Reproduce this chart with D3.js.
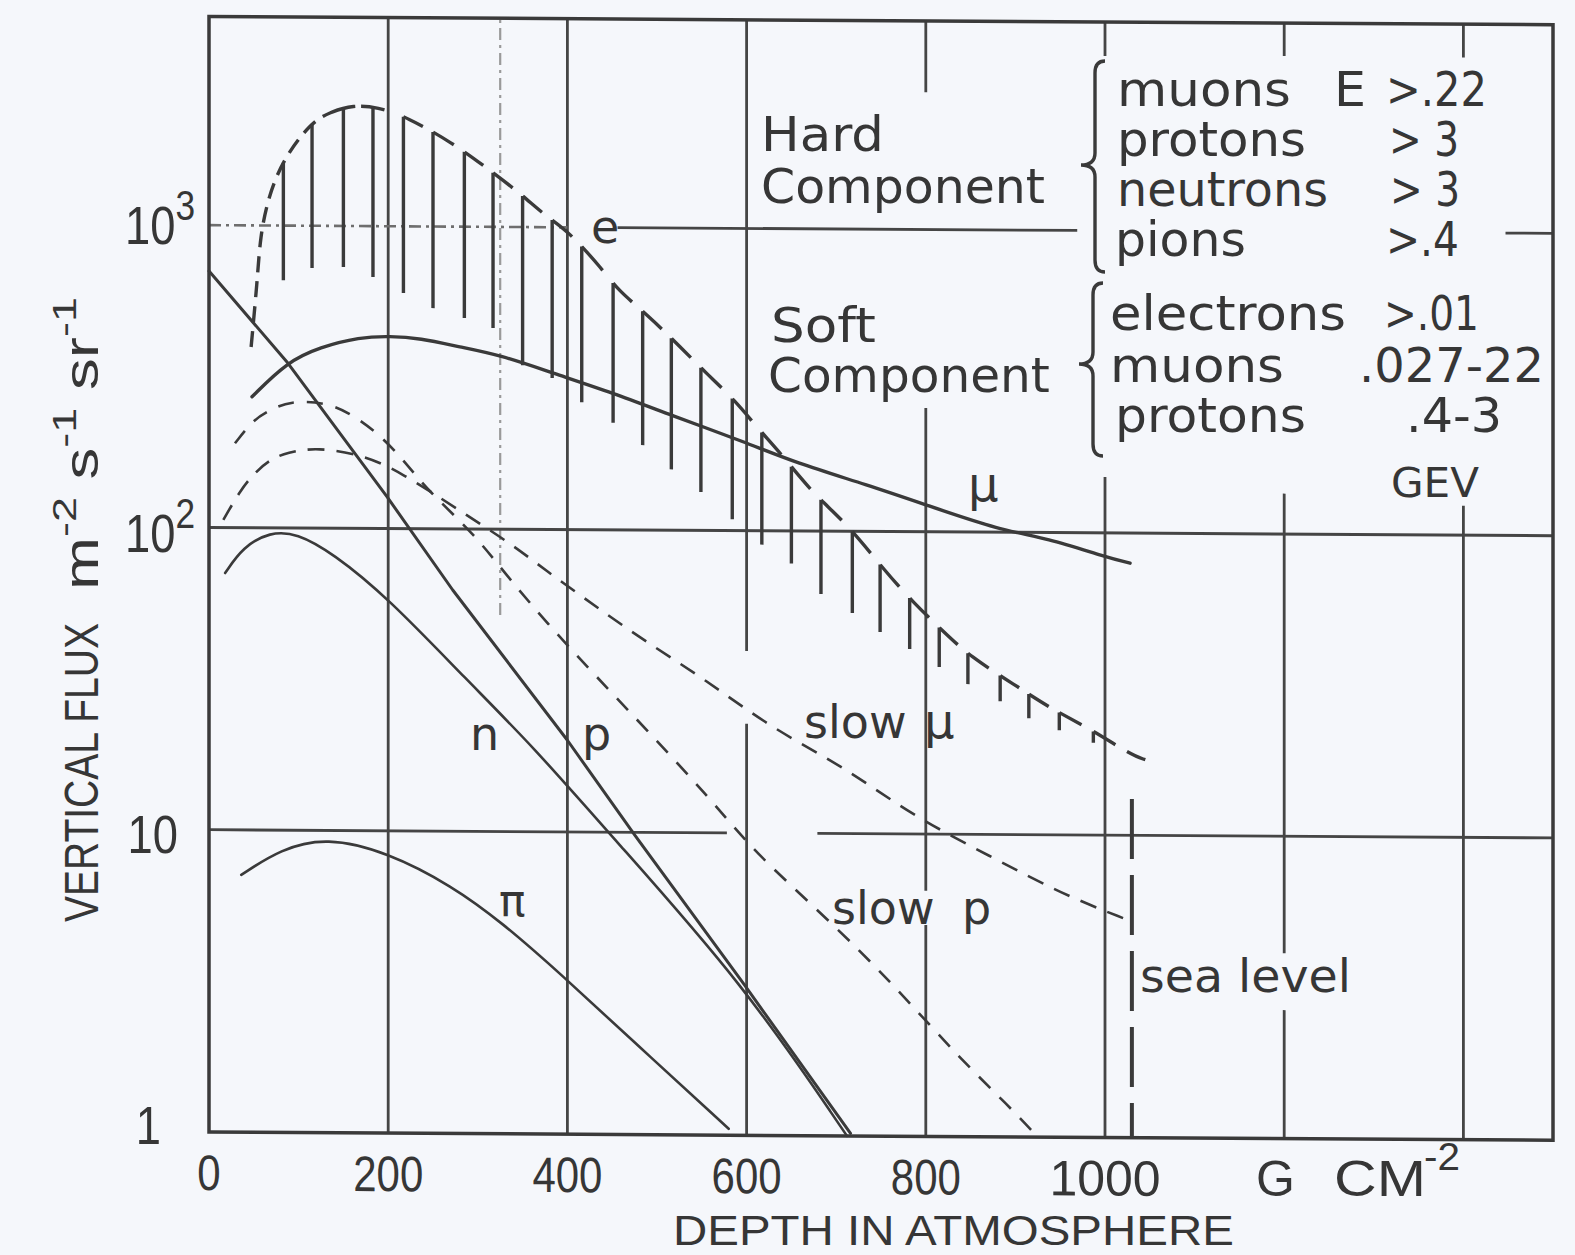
<!DOCTYPE html>
<html>
<head>
<meta charset="utf-8">
<script src="https://cdn.jsdelivr.net/npm/d3@7"></script>
<style>
  html, body { margin: 0; padding: 0; background: #f5f7fb; }
  svg { display: block; }
</style>
</head>
<body>
<svg id="chart" width="1575" height="1255"></svg>
<script>
// ---- axis ticks ----
const depthTicks = [0, 200, 400, 600, 800, 1000];
const fluxTicks = [1, 10, 100, 1000];
const fluxTickExp = ["", "", "2", "3"];

// ---- vertical fluxes (m^-2 s^-1 sr^-1) versus depth (g cm^-2) ----
// electrons: upper envelope of the hatched band
const eDepth = [47, 54, 57, 66, 82, 113, 135, 161, 188, 221, 272, 310, 347, 377, 400, 440, 456, 492, 526, 556, 588, 612, 640, 675, 711, 756, 787, 819, 850, 898, 939, 982, 1030, 1045];
const eFlux  = [396, 660, 914, 1238, 1641, 2187, 2379, 2514, 2477, 2300, 1891, 1566, 1296, 1080, 979, 723, 622, 507, 404, 329, 268, 219, 178, 132, 107, 73, 58, 47, 38.6, 31.5, 26.2, 22.6, 18.4, 17.8];

// hatch strokes hanging from the electron envelope
const hatchDepth = [83, 115, 150, 183, 217, 250, 285, 317, 350, 383, 416, 451, 484, 516, 549, 584, 617, 650, 683, 718, 749, 782, 815, 847, 883, 915, 949, 987];
const hatchFloor = [660, 725, 731, 679, 602, 537, 499, 463, 349, 317, 264, 226, 191, 159, 134, 109, 90, 78, 62, 53.7, 46.5, 40.9, 35.7, 31.4, 27.6, 24.3, 22.2, 20.2];

// muons
const muDepth = [48, 87, 124, 168, 202, 235, 280, 325, 384, 451, 516, 599, 655, 735, 801, 883, 935, 1002, 1028];
const muFlux  = [271, 354, 397, 429, 433, 427, 400, 377, 329, 284, 240, 196, 168, 142.5, 122.5, 101.6, 96, 83, 79.5];

// protons
const pDepth = [0, 88, 199, 272, 400, 475, 597, 716];
const pFlux  = [705, 351, 127, 62.8, 20.1, 9.8, 3.16, 1.02];

// neutrons
const nDepth = [18, 38, 68, 98, 138, 199, 288, 362, 448, 597, 712];
const nFlux  = [70.7, 86.3, 96.9, 96.2, 82.7, 59.3, 31.6, 19.1, 9.8, 3.16, 1.0];

// pions
const piDepth = [36, 80, 131, 199, 271, 327, 392, 478, 580];
const piFlux  = [7.1, 8.66, 9.5, 8.5, 6.6, 5.0, 3.4, 1.98, 1.05];

// slow muons
const slowMuDepth = [16, 35, 51, 68, 87, 121, 171, 211, 294, 339, 377, 414, 481, 555, 627, 708, 785, 871, 952, 1026];
const slowMuFlux  = [106, 133, 152, 168, 178, 185, 175, 156, 108, 88.7, 72.8, 60.8, 43.9, 32, 22.3, 16.7, 11.5, 8.5, 6.37, 5.24];

// slow protons
const slowPDepth = [29, 49, 68, 90, 132, 163, 193, 219, 244, 295, 330, 378, 431, 490, 555, 606, 665, 725, 777, 840, 892, 925];
const slowPFlux  = [190, 227, 245, 263, 261, 235, 201, 166, 134, 97, 71.6, 48.7, 33, 21.6, 13.4, 8.85, 6.1, 4.15, 2.87, 1.79, 1.27, 1.0];

// sea level depth
const seaLevelDepth = 1030;

// ---- drawing ----
const ink = "#3a3a3a";
const svg = d3.select("#chart");
svg.append("rect").attr("width", 1575).attr("height", 1255).attr("fill", "#f5f7fb");

const x = d3.scaleLinear().domain([0, 1500]).range([209, 1553]);
const y = d3.scaleLog().domain([1, 4900]).range([1132, 16.5]);
const yTop = y.domain()[1], yBot = y.domain()[0];

// the plotted sheet sits very slightly tilted
const plot = svg.append("g")
  .attr("transform", "translate(209,0) skewY(0.35) translate(-209,0)");

const zip = (a, b) => a.map((d, i) => [d, b[i]]);
const lineGen = curve => d3.line().x(d => x(d[0])).y(d => y(d[1])).curve(curve);

function seg(parent, x1, y1, x2, y2, w, color, dash) {
  const l = parent.append("line")
    .attr("x1", x1).attr("y1", y1).attr("x2", x2).attr("y2", y2)
    .attr("stroke", color || ink).attr("stroke-width", w);
  if (dash) l.attr("stroke-dasharray", dash);
  return l;
}

// grid: vertical rules, broken where lettering sits
const vRules = [
  { d: 200,  spans: [[yBot, yTop]] },
  { d: 400,  spans: [[yBot, yTop]] },
  { d: 600,  spans: [[yBot, 23], [40, yTop]] },
  { d: 800,  spans: [[yBot, 5.0], [6.5, 257], [2845, yTop]] },
  { d: 1000, spans: [[yBot, 153], [3778, yTop]] },
  { d: 1200, spans: [[yBot, 2.66], [4.1, 136], [3810, yTop]] },
  { d: 1400, spans: [[yBot, 125], [3800, yTop]] }
];
vRules.forEach(r => r.spans.forEach(([a, b]) =>
  seg(plot, x(r.d), y(a), x(r.d), y(b), 2.8, "#454545")));

// dash-dot auxiliary rules
seg(plot, x(325), y(52), x(325), y(yTop), 2.2, "#9a9a9a", "12,5,3,5");
seg(plot, x(0), y(1000), x(400), y(1000), 2.6, "#6e6e6e", "12,5,3,5");

// horizontal rules
seg(plot, x(456), y(1000), x(969), y(1000), 2.8, "#454545");
seg(plot, x(1447), y(1000), x(1500), y(1000), 2.8, "#454545");
seg(plot, x(0), y(100), x(1500), y(100), 3, "#454545");
seg(plot, x(0), y(10), x(578), y(10), 2.8, "#454545");
seg(plot, x(679), y(10), x(1500), y(10), 2.8, "#454545");

// frame
plot.append("rect")
  .attr("x", x(0)).attr("y", y(yTop))
  .attr("width", x(1500) - x(0)).attr("height", y(yBot) - y(yTop))
  .attr("fill", "none").attr("stroke", ink).attr("stroke-width", 3.5);

// ---- curves ----
const solid = (data, w, curve) => plot.append("path")
  .attr("d", lineGen(curve || d3.curveBasis)(data))
  .attr("fill", "none").attr("stroke", ink).attr("stroke-width", w)
  .attr("stroke-linecap", "round").attr("stroke-linejoin", "round");

solid(zip(piDepth, piFlux), 2.6);
solid(zip(nDepth, nFlux), 2.6);
solid(zip(pDepth, pFlux), 3, d3.curveLinear);
solid(zip(muDepth, muFlux), 3.4);

solid(zip(slowMuDepth, slowMuFlux), 2.6).attr("stroke-dasharray", "17,12").attr("stroke-linecap", "butt");
solid(zip(slowPDepth, slowPFlux), 2.6).attr("stroke-dasharray", "16,13").attr("stroke-linecap", "butt");

// electron envelope and its hatching
const ePathSel = solid(zip(eDepth, eFlux), 3.4).attr("stroke-linecap", "butt");
const ePath = ePathSel.node();
const T = ePath.getTotalLength();
function lengthAtX(px) {
  let lo = 0, hi = T;
  for (let k = 0; k < 40; k++) {
    const mid = (lo + hi) / 2;
    if (ePath.getPointAtLength(mid).x < px) lo = mid; else hi = mid;
  }
  return (lo + hi) / 2;
}
const hatchLen = hatchDepth.map(d => lengthAtX(x(d)));

hatchDepth.forEach((d, i) => {
  const top = ePath.getPointAtLength(hatchLen[i]);
  seg(plot, top.x, top.y, top.x, y(hatchFloor[i]), 3.4);
});

// envelope drawn as dashes on the rising side and hooks along the falling side
const pieces = [];
const firstHook = 2;
const leftLimit = hatchLen[firstHook] - 12;
for (let s = 0; s < leftLimit; s += 25) pieces.push([s, Math.min(s + 16, leftLimit)]);
for (let i = firstHook; i < hatchLen.length; i++) {
  const L = hatchLen[i];
  if (i <= 3) pieces.push([L - 12, L + 12]);
  else {
    const step = i < hatchLen.length - 1 ? hatchLen[i + 1] - L : L - hatchLen[i - 1];
    pieces.push([L, L + 0.65 * step]);
  }
}
const lastL = hatchLen[hatchLen.length - 1];
const lastStep = lastL - hatchLen[hatchLen.length - 2];
if (T - (lastL + lastStep) > 4) pieces.push([lastL + lastStep, T]);
const dash = [0];
let pos = 0;
pieces.forEach(([a, b]) => {
  a = Math.max(a, pos);
  if (b <= a) return;
  dash.push(a - pos, b - a);
  pos = b;
});
dash.push(T);
ePathSel.attr("stroke-dasharray", dash.map(v => v.toFixed(2)).join(","));

// sea level marker
seg(plot, x(seaLevelDepth), y(13.2), x(seaLevelDepth), y(1), 4, ink, "60,16");

// ---- lettering ----
function put(parent, content, o) {
  const g = parent.append("g")
    .attr("transform", `translate(${o.x},${o.y})` + (o.rotate ? ` rotate(${o.rotate})` : ""));
  const t = g.append("text")
    .attr("font-family", o.font || "DejaVu Sans, sans-serif")
    .attr("font-size", o.size)
    .attr("fill", o.color || "#363636")
    .attr("text-anchor", o.anchor || "start")
    .style("white-space", "pre");
  if (Array.isArray(content)) {
    let up = false;
    content.forEach(([s, sup]) => {
      const ts = t.append("tspan").text(s);
      if (sup) {
        ts.attr("font-size", o.supSize);
        if (!up) { ts.attr("dy", -o.supRise); up = true; }
      } else if (up) { ts.attr("dy", o.supRise); up = false; }
    });
  } else t.text(content);
  if (o.width) {
    const w = t.node().getComputedTextLength();
    if (w > 0) t.attr("transform", `scale(${o.width / w},1)`);
  } else if (o.sx) t.attr("transform", `scale(${o.sx},1)`);
  return t;
}

const numFont = "Liberation Sans, Arial, sans-serif";

// depth tick labels (on the tilted sheet)
depthTicks.forEach(d => put(plot, String(d), {
  x: x(d), y: 1190, size: 50, font: numFont, anchor: "middle", sx: d >= 1000 ? 1 : 0.84
}));

// flux tick labels
const tickRight = [161, 178, 195, 195];
const tickDrop = [12, 23, 25, 19];
fluxTicks.forEach((v, i) => {
  const parts = v === 1 ? [["1", false]] : [["10", false]];
  if (fluxTickExp[i]) parts.push([fluxTickExp[i], true]);
  put(svg, parts, {
    x: tickRight[i], y: y(v) + tickDrop[i], size: 54, font: numFont,
    anchor: "end", sx: 0.84, supSize: 42, supRise: 24
  });
});

// axis titles
put(svg, "DEPTH IN ATMOSPHERE", { x: 673, y: 1245, size: 43, font: numFont, width: 561 });
put(svg, "G", { x: 1256, y: 1196, size: 50, font: numFont });
put(svg, "CM", { x: 1334, y: 1196, size: 50, font: numFont, width: 92 });
put(svg, "-2", { x: 1424, y: 1170, size: 38, font: numFont, width: 36 });

put(svg, "VERTICAL FLUX", { x: 98, y: 922, rotate: -90, size: 48, font: numFont, width: 299 });
put(svg, [["m", false], ["-2", true], [" s", false], ["-1", true], [" sr", false], ["-1", true]],
  { x: 98, y: 590, rotate: -90, size: 48, font: numFont, width: 293, supSize: 34, supRise: 22 });

// component headings
put(svg, "Hard", { x: 761, y: 151, size: 48, width: 123 });
put(svg, "Component", { x: 761, y: 203, size: 48, width: 284 });
put(svg, "Soft", { x: 771, y: 342, size: 48, width: 105 });
put(svg, "Component", { x: 768, y: 392, size: 48, width: 282 });

// braces
function brace(xs, y0, y1, ym, tip) {
  const r = 12;
  return `M${xs + 10},${y0} Q${xs},${y0} ${xs},${y0 + r} L${xs},${ym - r} Q${xs},${ym} ${tip},${ym}` +
         ` Q${xs},${ym} ${xs},${ym + r} L${xs},${y1 - r} Q${xs},${y1} ${xs + 10},${y1}`;
}
svg.append("path").attr("d", brace(1095, 61, 272, 165, 1081))
  .attr("fill", "none").attr("stroke", ink).attr("stroke-width", 3.4);
svg.append("path").attr("d", brace(1093, 283, 456, 364, 1079))
  .attr("fill", "none").attr("stroke", ink).attr("stroke-width", 3.4);

// energy thresholds
const legendRows = [
  ["muons", 1117, 106, 174], ["E", 1334, 106, 32], [">.22", 1386, 106, 101],
  ["protons", 1117, 156, 189], ["> 3", 1389, 156, 70],
  ["neutrons", 1117, 206, 211], ["> 3", 1390, 206, 70],
  ["pions", 1115, 256, 131], [">.4", 1386, 256, 73],
  ["electrons", 1110, 330, 236], [">.01", 1384, 330, 95],
  ["muons", 1110, 382, 174], [".027-22", 1359, 382, 185],
  ["protons", 1115, 432, 191], [".4-3", 1406, 432, 96]
];
legendRows.forEach(([s, lx, ly, w]) => put(svg, s, { x: lx, y: ly, size: 48, width: w }));
put(svg, "GEV", { x: 1391, y: 497, size: 40, width: 88 });

// curve labels
put(svg, "e", { x: 591, y: 243, size: 46 });
put(svg, "\u03bc", { x: 968, y: 501, size: 48 });
put(svg, "n", { x: 470, y: 750, size: 46 });
put(svg, "p", { x: 582, y: 750, size: 46 });
put(svg, "\u03c0", { x: 499, y: 916, size: 44 });
put(svg, "slow", { x: 804, y: 738, size: 46 });
put(svg, "\u03bc", { x: 924, y: 738, size: 48 });
put(svg, "slow", { x: 832, y: 924, size: 46 });
put(svg, "p", { x: 962, y: 924, size: 46 });
put(svg, "sea level", { x: 1140, y: 992, size: 46, width: 211 });
</script>
</body>
</html>
